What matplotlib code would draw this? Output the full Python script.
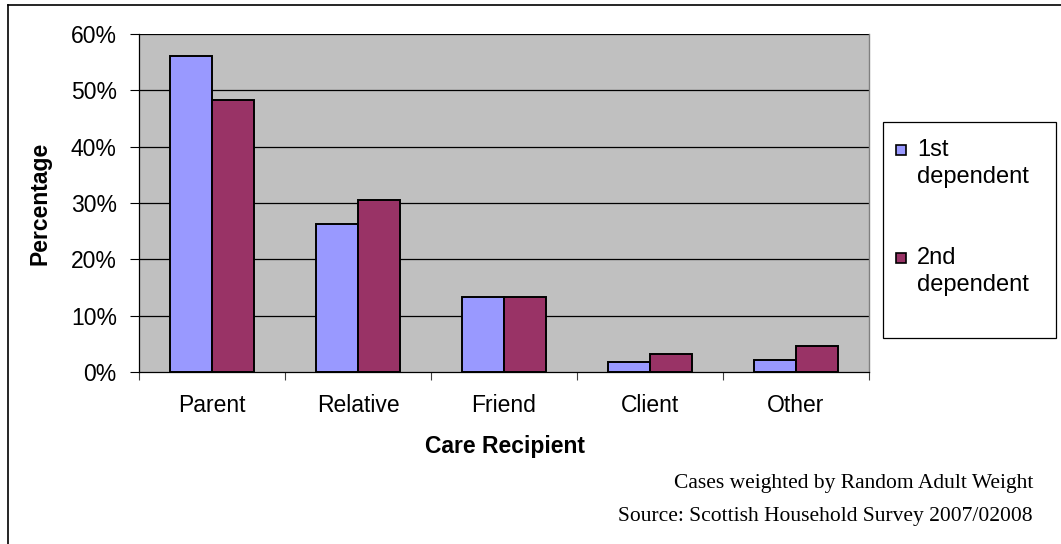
import matplotlib
matplotlib.use("Agg")
import matplotlib.pyplot as plt
from matplotlib.patches import Rectangle
from matplotlib.lines import Line2D
import numpy as np

categories = ["Parent", "Relative", "Friend", "Client", "Other"]
series_names = ["1st\ndependent", "2nd\ndependent"]
first_dep = [56.1, 26.3, 13.4, 1.8, 2.1]
second_dep = [48.3, 30.5, 13.4, 3.2, 4.6]
y_ticks = [0, 10, 20, 30, 40, 50, 60]
y_tick_labels = ["0%", "10%", "20%", "30%", "40%", "50%", "60%"]
x_title = "Care Recipient"
y_title = "Percentage"
notes = ["Cases weighted by Random Adult Weight",
         "Source: Scottish Household Survey 2007/02008"]

colors = ["#9999FF", "#993366"]

W, H = 1061, 544
fig = plt.figure(figsize=(W / 100, H / 100), dpi=100)
fig.patch.set_facecolor("white")

def fx(px):
    return px / W

def fy(py):
    return 1 - py / H

ax = fig.add_axes([fx(139), fy(372), fx(869) - fx(139), fy(34) - fy(372)])
ax.set_facecolor("#C0C0C0")

x = np.arange(len(categories))
bw = 0.29
ax.bar(x - bw / 2, first_dep, bw, color=colors[0], edgecolor="black", linewidth=1.4, zorder=3)
ax.bar(x + bw / 2, second_dep, bw, color=colors[1], edgecolor="black", linewidth=1.4, zorder=3)

ax.set_xlim(-0.5, len(categories) - 0.5)
ax.set_ylim(0, 60)
ax.set_yticks(y_ticks)
ax.set_yticklabels(y_tick_labels, fontsize=16.5, family="Liberation Sans")
ax.tick_params(axis="y", direction="out", length=6.5, width=0.8, pad=9.5, color="black")
for t in y_ticks[1:]:
    ax.axhline(t, color="black", linewidth=0.9, zorder=1)

# category boundaries as major ticks, labels on minor ticks
ax.set_xticks(np.arange(-0.5, len(categories), 1.0))
ax.set_xticklabels([])
ax.tick_params(axis="x", which="major", direction="out", length=5.5, width=0.8, color="#404040")
ax.set_xticks(x, minor=True)
ax.set_xticklabels(categories, minor=True, fontsize=16.5, family="Liberation Sans")
ax.tick_params(axis="x", which="minor", length=0, pad=16)

for s in ["left", "bottom"]:
    ax.spines[s].set_color("black")
    ax.spines[s].set_linewidth(0.9)
ax.spines["top"].set_visible(False)
ax.spines["right"].set_color("#808080")
ax.spines["right"].set_linewidth(1.0)

fig.text(fx(40), fy(203), y_title, rotation=90, ha="center", va="center",
         fontsize=16.5, fontweight="bold", family="Liberation Sans")
fig.text(fx(505), fy(446), x_title, ha="center", va="center",
         fontsize=16.5, fontweight="bold", family="Liberation Sans")

# legend box
fig.patches.append(Rectangle((fx(883), fy(338)), fx(1056) - fx(883), fy(122) - fy(338),
                             transform=fig.transFigure, facecolor="white",
                             edgecolor="black", linewidth=0.9))
for i, (name, c) in enumerate(zip(series_names, colors)):
    ytop = 150 + i * 108
    fig.patches.append(Rectangle((fx(896), fy(ytop + 5)), fx(10), 10 / H,
                                 transform=fig.transFigure, facecolor=c,
                                 edgecolor="black", linewidth=1.2))
    lines = name.split("\n")
    for j, ln in enumerate(lines):
        fig.text(fx(917), fy(ytop + j * 27), ln, ha="left", va="center",
                 fontsize=17, family="Liberation Sans")

# footnotes
fig.text(fx(1033), fy(488), notes[0], ha="right", va="baseline",
         fontsize=15.5, family="Liberation Serif")
fig.text(fx(1033), fy(521), notes[1], ha="right", va="baseline",
         fontsize=15.5, family="Liberation Serif")

# outer chart border (top and left visible)
fig.lines.append(Line2D([fx(8), 1], [fy(5), fy(5)], transform=fig.transFigure,
                        color="black", linewidth=1.2))
fig.lines.append(Line2D([fx(8), fx(8)], [fy(5), 0], transform=fig.transFigure,
                        color="black", linewidth=1.2))

fig.savefig("out.png", dpi=100, facecolor="white")
